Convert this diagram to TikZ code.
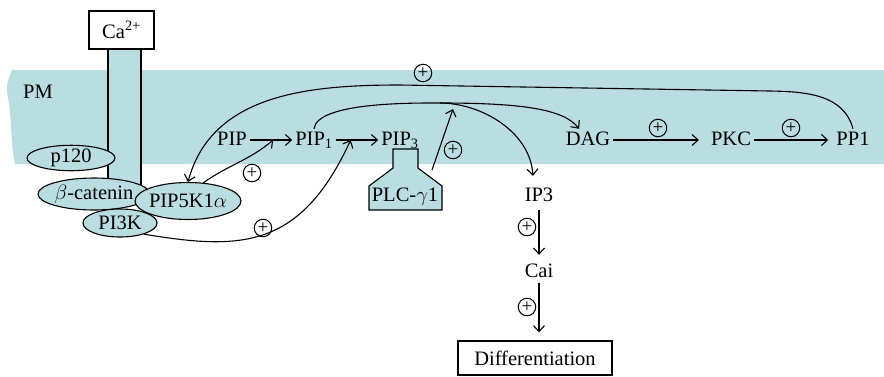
\documentclass[tikz,border=0pt]{standalone}
\usepackage{fontspec}
\setmainfont{Liberation Serif}
\usetikzlibrary{arrows.meta,shapes.geometric}
\definecolor{membrane}{RGB}{185,221,225}
\tikzset{
  act/.style={-{Straight Barb[length=6pt,width=11pt]},line width=1.1pt},
  mol/.style={inner xsep=3pt,inner ysep=2pt,text height=14pt,text depth=4pt},
  prot/.style={ellipse,draw,fill=membrane,line width=1.1pt,inner sep=0pt},
  stim/.style={circle,draw,line width=1pt,inner sep=0pt,minimum size=17.5pt,font=\fontsize{19}{19}\selectfont},
  outbox/.style={draw,fill=white,line width=1.1pt}
}
\begin{document}
\begin{tikzpicture}[x=1pt,y=1pt,font=\fontsize{20.5}{24}\selectfont]
\useasboundingbox (0,0) rectangle (884,-376);

% membrane
\fill[membrane] (12,-70) -- (884,-70) -- (884,-164) -- (15,-164)
  .. controls (10,-140) and (12,-118) .. (8,-98) .. controls (6,-86) .. (12,-70) -- cycle;
\node (pm) at (38,-92) {PM};

% channel
\filldraw[fill=membrane,line width=1.1pt] (108,-49) rectangle (141,-192);
\node[outbox,minimum width=65pt,minimum height=38pt] (ca) at (121.5,-30) {Ca\textsuperscript{2+}};

% PLC
\filldraw[fill=membrane,line width=1.1pt] (393,-149) -- (418,-149) -- (418,-168) -- (442,-186)
  -- (442,-210) -- (369,-210) -- (369,-186) -- (393,-168) -- cycle;
\node (plc) at (405,-197) {PLC-$\gamma$1};

% complex
\node[prot,minimum width=88pt,minimum height=24pt] (p120) at (71,-158) {p120};
\node[prot,minimum width=112pt,minimum height=32pt,inner xsep=-2pt] (bcat) at (94,-194) {$\beta$-catenin};
\node[prot,minimum width=74pt,minimum height=28pt] (pi3k) at (120,-223) {PI3K};
\node[prot,minimum width=106pt,minimum height=37pt,inner xsep=-3pt] (pip5k) at (188,-201) {PIP5K1$\alpha$};

% molecules
\node[mol] (pip) at (232,-140) {PIP};
\node[mol] (pip1) at (314,-140) {PIP\textsubscript{1}};
\node[mol] (pip3) at (400,-140) {PIP\textsubscript{3}};
\node[mol] (dag) at (588,-140) {DAG};
\node[mol] (pkc) at (731,-140) {PKC};
\node[mol] (pp1) at (853,-140) {PP1};
\node[mol] (ip3) at (539,-196) {IP3};
\node[mol] (cai) at (539,-272) {Cai};
\node[outbox,minimum width=154pt,minimum height=34pt] (diff) at (535,-358) {Differentiation};

\coordinate (split) at (440,-103);
\coordinate (hyd) at (453,-109);
\coordinate (plcout) at (432,-170);
\coordinate (bendr) at (770,-91);
\coordinate (bendl) at (400,-85);

% arrows
\draw[act] (pip) -- (pip1) coordinate[pos=0.55] (k1);
\draw[act] (pip1) -- (pip3) coordinate[pos=0.35] (k2);
\draw[act,shorten >=9pt] (dag) -- (pkc);
\draw[act,shorten >=5pt] (pkc) -- (pp1);
\draw[act] (pp1.north) to[out=105,in=-1] (bendr) -- (bendl) to[out=180,in=75] (pip5k.north);
\draw[line width=1.1pt] (pip1.north) .. controls +(3,27) and +(-25,0) .. (split);
\draw[act] (split) .. controls +(80,0) and +(-15,20) .. ([xshift=-9pt]dag.north);
\draw[act] (split) .. controls +(40,0) and +(-3,45) .. ([yshift=9pt,xshift=-6pt]ip3.north);
\draw[act] (plcout) -- (hyd);
\draw[act] (pip5k.50) to[out=35,in=220] (k1);
\draw[act] (pi3k.-25) .. controls (240,-250) and (300,-250) .. (k2);
\draw[act,shorten <=3pt,shorten >=6pt] (ip3) -- (cai);
\draw[act,shorten >=8pt] (cai) -- (cai |- diff.north);

% activation marks
\node[stim] (s1) at (423,-73) {+};
\node[stim] (s2) at (252,-173) {+};
\node[stim] (s3) at (263,-228) {+};
\node[stim] (s4) at (453,-150) {+};
\node[stim] (s5) at (658,-128) {+};
\node[stim] (s6) at (791,-128) {+};
\node[stim] (s7) at (527,-227) {+};
\node[stim] (s8) at (527,-307) {+};
\end{tikzpicture}
\end{document}
